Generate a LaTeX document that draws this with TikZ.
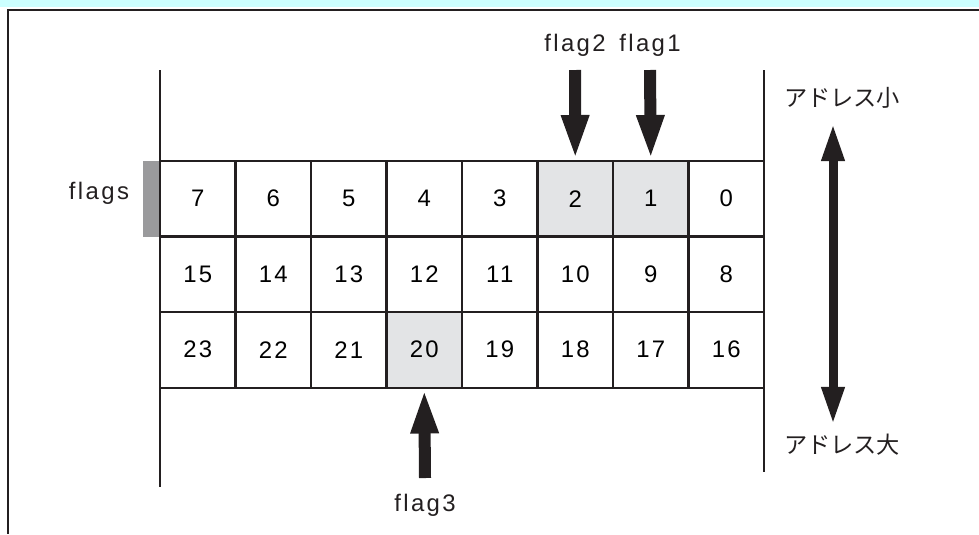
\documentclass[tikz,border=0pt]{standalone}
\usepackage{fontspec}
\setmainfont{Liberation Sans}
\newfontfamily\jpfont{Noto Sans CJK JP}
\usetikzlibrary{arrows.meta}
\definecolor{ink}{HTML}{231F20}
\definecolor{cellgray}{HTML}{E3E4E6}
\definecolor{bargray}{HTML}{9A9A9C}
\definecolor{bandcyan}{HTML}{CCFFFF}
\newcommand{\lblfont}{\fontsize{17}{20}\selectfont\addfontfeature{LetterSpace=10}}
\pgfdeclarelayer{background}
\pgfsetlayers{background,main}

\begin{document}
\begin{tikzpicture}[x=0.025cm,y=-0.025cm,
    rule/.style={draw=ink,line width=0.05cm},
    cell/.style={rule,minimum size=1.8875cm,inner sep=0pt,font=\lblfont},
    lbl/.style={inner sep=0pt,font=\lblfont,text=ink},
    jp/.style={inner sep=0pt,font=\jpfont\fontsize{16.5}{20}\selectfont,text=ink},
    fatarrow/.style={draw=ink,line width=0.3cm,-{Triangle[length=1.125cm,width=0.625cm]}},
    dblarrow/.style={draw=ink,line width=0.225cm,{Triangle[length=0.95cm,width=0.525cm]}-{Triangle[length=0.95cm,width=0.525cm]}}]
      \useasboundingbox (0,0) rectangle (979,534);

      % frame and band
      \fill[bandcyan] (0,0) rectangle (979,7);
      \draw[draw=ink,line width=0.06cm] (979,10) -- (8,10) -- (8,534);

      % memory cells
      \foreach \r in {0,1,2}{
        \foreach \i in {0,...,7}{
          \pgfmathtruncatemacro{\n}{8*\r+7-\i}
          \node[cell] (c\n) at ({197.75+75.5*\i},{198.75+75.5*\r}) {\n};
        }
      }
      \begin{pgfonlayer}{background}
        \foreach \n in {2,1,20}
          \fill[cellgray] (c\n.south west) rectangle (c\n.north east);
      \end{pgfonlayer}

      \draw[rule] (160,70) -- (160,487);
      \draw[rule] (764,70) -- (764,472);

      \node[fill=bargray,minimum width=0.4cm,minimum height=1.9cm,inner sep=0pt,anchor=east] (flagbar) at (c7.west) {};
      \node[lbl] (flagsname) at (99,193) {flags};

      % flag pointers
      \node[lbl] (flagtwo) at (575,45) {flag2};
      \node[lbl] (flagone) at (650,45) {flag1};
      \node[lbl] (flagthree) at (425,505) {flag3};
      \coordinate (f2tail) at (575,70);
      \coordinate (f1tail) at (650,70);
      \coordinate (f3tail) at (425,478);
      \draw[fatarrow] (f2tail) -- (c2.north);
      \draw[fatarrow] (f1tail) -- (c1.north);
      \draw[fatarrow] (f3tail) -- (c20.south);

      % address direction
      \node[jp] (small) at (842,98) {アドレス小};
      \node[jp] (large) at (842,445) {アドレス大};
      \coordinate (upend) at (833,123);
      \coordinate (downend) at (833,425);
      \draw[dblarrow] (upend) -- (downend);
    \end{tikzpicture}
\end{document}
